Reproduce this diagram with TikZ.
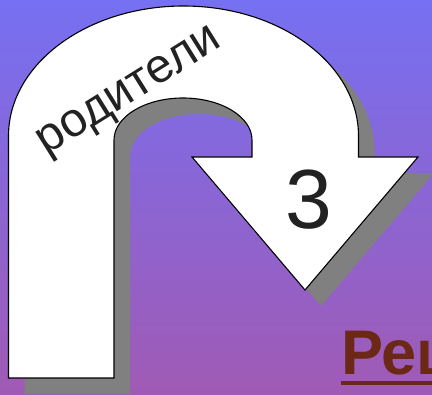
\documentclass[tikz,border=0pt]{standalone}
\usepackage{fontspec}
\setmainfont{Liberation Sans}
\definecolor{bgtop}{RGB}{118,112,242}
\definecolor{bgbot}{RGB}{160,90,180}
\definecolor{shadowgray}{RGB}{128,128,128}
\definecolor{textdark}{RGB}{34,34,34}
\definecolor{brownred}{RGB}{107,40,22}
\tikzset{
  uturn/.style={fill=white,draw=black,line width=1.1pt,line join=miter},
  uturnshadow/.style={fill=shadowgray},
  labeltext/.style={text=textdark,inner sep=0pt},
}
\begin{document}
\begin{tikzpicture}[x=1pt,y=-1pt]
\useasboundingbox (0,0) rectangle (432,395);
\clip (0,0) rectangle (432,395);
\shade[top color=bgtop,bottom color=bgbot] (0,0) rectangle (432,395);
% shadow
\begin{scope}[shift={(16,16)}]
\path[uturnshadow] (8.5,378) -- (8.5,136)
  arc[start angle=180,end angle=0,x radius=175pt,y radius=130pt]
  -- (358.5,157) -- (418,157) -- (305,290) -- (192,157) -- (252,157) -- (252,140)
  arc[start angle=0,end angle=180,x radius=69pt,y radius=42pt]
  -- (114,378) -- cycle;
\end{scope}
% arrow
\path[uturn] (8.5,378) -- (8.5,136)
  arc[start angle=180,end angle=0,x radius=175pt,y radius=130pt]
  -- (358.5,157) -- (418,157) -- (305,290) -- (192,157) -- (252,157) -- (252,140)
  arc[start angle=0,end angle=180,x radius=69pt,y radius=42pt]
  -- (114,378) -- cycle;
\node[labeltext,rotate=32,font=\fontsize{48}{48}\selectfont] (parents) at (131,94) {родители};
\node[labeltext,font=\fontsize{84}{84}\selectfont] (three) at (309,200) {3};
\node[text=brownred,inner sep=0pt,anchor=base west,font=\bfseries\fontsize{63}{63}\selectfont] (resh) at (341,375) {Реш};
\fill[brownred] ([yshift=-6pt]resh.base west) rectangle ([yshift=-10pt]resh.base east);
\end{tikzpicture}
\end{document}
